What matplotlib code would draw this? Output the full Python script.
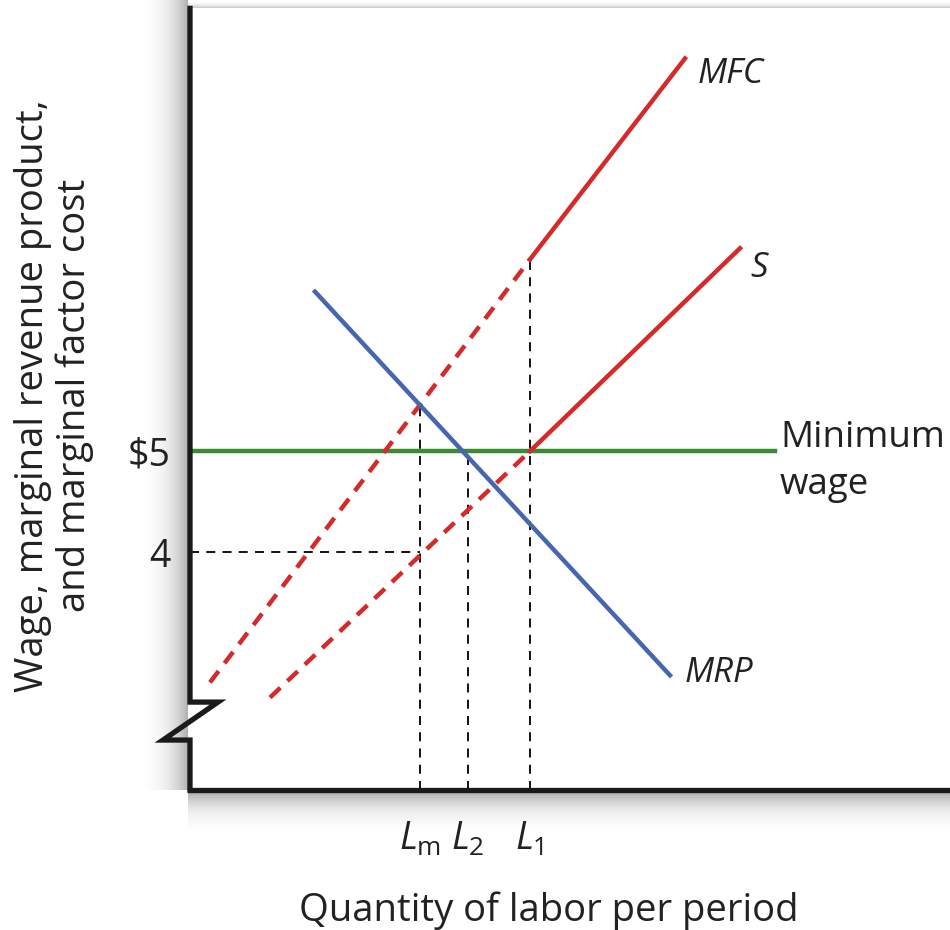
import numpy as np
import matplotlib.pyplot as plt

plt.rcParams['font.family'] = ['Open Sans', 'DejaVu Sans']
plt.rcParams['mathtext.fontset'] = 'custom'
plt.rcParams['mathtext.rm'] = 'Open Sans'
plt.rcParams['mathtext.it'] = 'Open Sans:italic'

# quantity of labour (arbitrary units) and wage ($)
mfc_q = [2.0, 34.0, 49.5]
mfc_w = [2.71, 6.90, 8.89]
s_q = [8.0, 34.0, 55.0]
s_w = [2.56, 5.00, 7.01]
mrp_q = [12.5, 48.0]
mrp_w = [6.58, 2.78]
min_wage = 5.0
min_wage_end = 58.5
wage_low = 4.0
labor_ticks = [23.0, 27.8, 34.0]
labor_labels = [r'$L_\mathrm{m}$', r'$L_\mathrm{2}$', r'$L_\mathrm{1}$']
wage_ticks = [4, 5]
wage_labels = ['4', '$5']

red = '#d42a2a'
blue = '#4766ad'
green = '#3a8c34'
ink = '#222222'

fig = plt.figure(figsize=(9.5, 9.3), dpi=100)

# soft shadow along the axes (background)
bg = fig.add_axes([0, 0, 1, 1], zorder=0)
bg.set_xlim(0, 950)
bg.set_ylim(930, 0)
bg.axis('off')
grad = np.linspace(0, 1, 64)[None, :] ** 1.8
bg.imshow(grad, cmap='Greys', vmin=0, vmax=2.4, extent=[140, 188, 790, 0], aspect='auto')
bg.imshow(grad.T[::-1], cmap='Greys', vmin=0, vmax=2.4, extent=[188, 950, 835, 793], aspect='auto')
bg.imshow(grad.T, cmap='Greys', vmin=0, vmax=3.0, extent=[188, 950, 8, 0], aspect='auto')

ax = fig.add_axes([0.2, 0.1505, 0.8, 0.8405], zorder=1)
ax.patch.set_alpha(0)
ax.set_xlim(0, 76)
ax.set_ylim(1.644, 9.386)

for sp in ['top', 'right', 'left']:
    ax.spines[sp].set_visible(False)
ax.spines['bottom'].set_linewidth(3.8)
ax.spines['bottom'].set_color('#1a1a1a')

# left axis with break mark
brk_x = [0, 0, 2.8, -2.7, 0, 0]
brk_y = [9.386, 2.515, 2.515, 2.139, 2.139, 1.644]
ax.plot(brk_x, brk_y, color='#1a1a1a', lw=3.8, clip_on=False, solid_joinstyle='miter', zorder=5)

# guide lines
dash_kw = dict(color='black', lw=1.3, dashes=(5, 4), zorder=2)
mrp_at_lm = np.interp(labor_ticks[0], mrp_q, mrp_w)
mfc_at_l1 = np.interp(labor_ticks[2], mfc_q, mfc_w)
ax.plot([labor_ticks[0]] * 2, [1.644, mrp_at_lm], **dash_kw)
ax.plot([labor_ticks[1]] * 2, [1.644, min_wage], **dash_kw)
ax.plot([labor_ticks[2]] * 2, [1.644, mfc_at_l1], **dash_kw)
ax.plot([0, labor_ticks[0]], [wage_low, wage_low], **dash_kw)

# curves
ax.plot([0, min_wage_end], [min_wage, min_wage], color=green, lw=3.2, zorder=3)
ax.plot(mfc_q[:2], mfc_w[:2], color=red, lw=3.2, dashes=(3.2, 2.2), zorder=3)
ax.plot(mfc_q[1:], mfc_w[1:], color=red, lw=3.2, zorder=3)
ax.plot(s_q[:2], s_w[:2], color=red, lw=3.2, dashes=(3.2, 2.2), zorder=3)
ax.plot(s_q[1:], s_w[1:], color=red, lw=3.2, zorder=3)
ax.plot(mrp_q, mrp_w, color=blue, lw=3.2, zorder=4)

lab_kw = dict(fontsize=25, color=ink, style='italic', va='center')
ax.text(50.8, 8.74, 'MFC', ha='left', **lab_kw)
ax.text(56.0, 6.81, 'S', ha='left', **lab_kw)
ax.text(49.5, 2.80, 'MRP', ha='left', **lab_kw)
ax.text(59.0, 4.90, 'Minimum\nwage', ha='left', va='center', fontsize=26.5,
        color=ink, linespacing=1.4, clip_on=False)

ax.set_xticks(labor_ticks)
ax.set_xticklabels(labor_labels, fontsize=27, color=ink)
ax.set_yticks(wage_ticks)
ax.set_yticklabels(wage_labels, fontsize=27, color=ink)
ax.tick_params(axis='x', length=0, pad=22)
ax.tick_params(axis='y', length=0, pad=14)

fig.text(0.578, 0.0, 'Quantity of labor per period', ha='center', va='bottom',
         fontsize=27.5, color=ink)
fig.text(0.057, 0.575, 'Wage, marginal revenue product,\nand marginal factor cost',
         rotation=90, ha='center', va='center', fontsize=27.5, color=ink,
         linespacing=1.1)

fig.savefig('out.png', dpi=100)
